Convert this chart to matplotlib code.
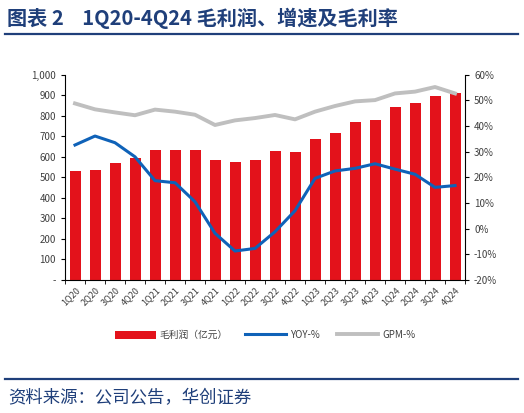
import matplotlib
matplotlib.use("Agg")
import matplotlib.pyplot as plt
from matplotlib.lines import Line2D
from matplotlib.patches import Patch
import numpy as np

plt.rcParams['font.family'] = ['Noto Sans CJK SC', 'DejaVu Sans']

quarters = ["1Q20", "2Q20", "3Q20", "4Q20", "1Q21", "2Q21", "3Q21", "4Q21",
            "1Q22", "2Q22", "3Q22", "4Q22", "1Q23", "2Q23", "3Q23", "4Q23",
            "1Q24", "2Q24", "3Q24", "4Q24"]
gross_profit = [532, 537, 571, 594, 631, 633, 633, 586, 576, 586,
                627, 625, 687, 714, 771, 781, 844, 864, 894, 912]
yoy = [32.6, 36.1, 33.5, 28.0, 18.7, 17.9, 10.5, -1.8, -8.7, -7.7,
       -1.2, 7.0, 19.6, 22.5, 23.5, 25.3, 23.2, 21.2, 16.1, 16.8]
gpm = [48.8, 46.5, 45.3, 44.2, 46.4, 45.6, 44.4, 40.4, 42.2, 43.1,
       44.3, 42.6, 45.6, 47.8, 49.6, 50.1, 52.7, 53.4, 55.2, 52.7]
left_ticks = [0, 100, 200, 300, 400, 500, 600, 700, 800, 900, 1000]
left_labels = ["-", "100", "200", "300", "400", "500", "600", "700", "800", "900", "1,000"]
right_ticks = [-20, -10, 0, 10, 20, 30, 40, 50, 60]

RED = "#E3121B"
BLUE = "#0F62B8"
GRAY = "#BFBFBF"
NAVY = "#1F3F7A"
TXT = "#404040"

fig = plt.figure(figsize=(5.24, 4.13), dpi=100)
ax = fig.add_axes([65/524, 1-280/413, 400/524, (280-74.7)/413])
x = np.arange(len(quarters))
ax.bar(x, gross_profit, width=0.55, color=RED, zorder=2)
ax.set_xlim(-0.5, len(quarters)-0.5)
ax.set_ylim(0, 1000)
ax.set_yticks(left_ticks)
ax.set_yticklabels(left_labels)
ax.set_xticks(x)
ax.set_xticklabels(quarters, rotation=45, ha='right', rotation_mode='anchor')
ax.set_xticks(np.arange(-0.5, len(quarters), 1), minor=True)
ax.tick_params(axis='x', which='major', length=0, pad=4, labelsize=6.5, colors=TXT)
ax.tick_params(axis='x', which='minor', length=3, direction='out', color='black')
ax.tick_params(axis='y', length=3, direction='out', labelsize=7, colors=TXT)
ax.tick_params(axis='y', color='black')
for s in ['top', 'right']:
    ax.spines[s].set_visible(False)
for s in ['left', 'bottom']:
    ax.spines[s].set_color('black')
    ax.spines[s].set_linewidth(0.8)

ax2 = ax.twinx()
ax2.plot(x, gpm, color=GRAY, lw=2.8, zorder=3)
ax2.plot(x, yoy, color=BLUE, lw=2.2, zorder=4)
ax2.set_ylim(-20, 60)
ax2.set_yticks(right_ticks)
ax2.set_yticklabels([f"{v}%" for v in right_ticks])
ax2.tick_params(axis='y', length=3, direction='out', labelsize=7, colors=TXT)
ax2.tick_params(axis='y', color='black')
for s in ['top', 'left', 'bottom']:
    ax2.spines[s].set_visible(False)
ax2.spines['right'].set_color('black')
ax2.spines['right'].set_linewidth(0.8)

handles = [Patch(facecolor=RED, edgecolor='none'),
           Line2D([0], [0], color=BLUE, lw=2.2),
           Line2D([0], [0], color=GRAY, lw=2.8)]
labels = ["毛利润（亿元）", "YOY-%", "GPM-%"]
fig.legend(handles, labels, loc='center', bbox_to_anchor=(265/524, 1-335/413), ncol=3,
           frameon=False, fontsize=7, handlelength=4.2, handleheight=0.9,
           columnspacing=1.8, handletextpad=0.4, labelcolor=TXT)

fig.text(7/524, 1-18/413, "图表 2    1Q20-4Q24 毛利润、增速及毛利率", color=NAVY,
         fontsize=14.5, fontweight='bold', va='center', ha='left')
fig.add_artist(Line2D([5/524, 518/524], [1-33.5/413, 1-33.5/413], color=NAVY, lw=1.6))
fig.add_artist(Line2D([5/524, 518/524], [1-379/413, 1-379/413], color=NAVY, lw=1.6))
fig.text(8/524, 1-398/413, "资料来源：公司公告，华创证券", color=NAVY,
         fontsize=12.5, va='center', ha='left')

fig.savefig("out.png", dpi=100)
